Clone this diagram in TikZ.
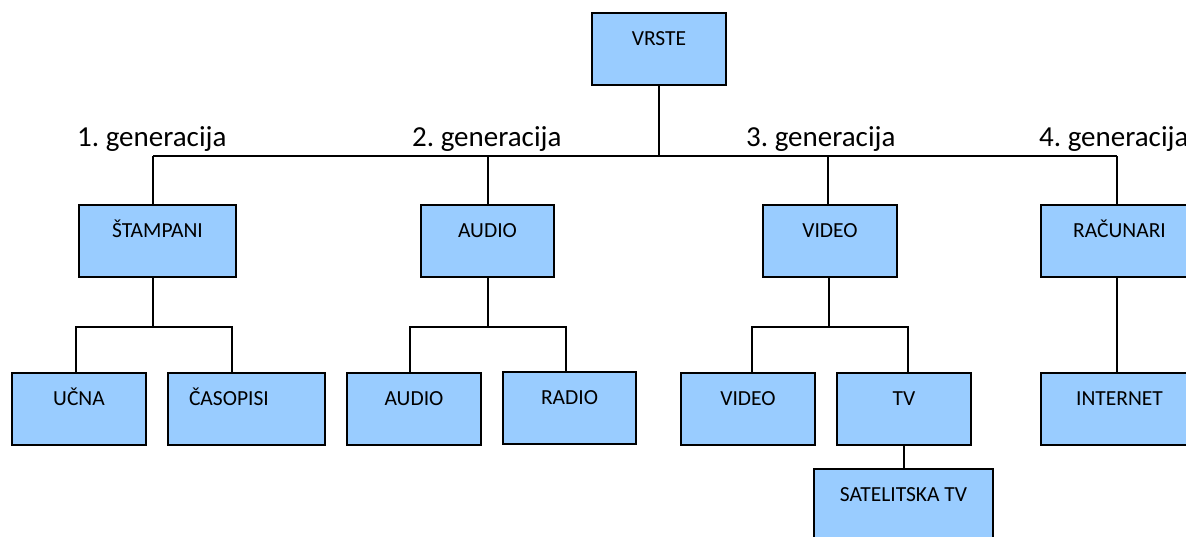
\documentclass[tikz,border=0pt]{standalone}
\usepackage{fontspec}
\setmainfont{Carlito}
\definecolor{boxblue}{RGB}{153,204,255}
\frenchspacing
\begin{document}
\begin{tikzpicture}[x=1pt,y=-1pt,
  box/.style={draw=black, line width=2.2pt, fill=boxblue, inner sep=0pt,
    minimum height=72pt, text height=32pt, text depth=40pt,
    font=\fontsize{21.5}{25}\selectfont},
  wire/.style={draw=black, line width=2.2pt},
  genlabel/.style={anchor=base west, inner sep=0pt,
    font=\fontsize{29}{35}\selectfont}]
\useasboundingbox (0,0) rectangle (1186,536);

% root
\node[box, minimum width=134pt] (vrste) at (659,49) {VRSTE};

% generation labels
\node[genlabel] (g1) at (77,146) {1. generacija};
\node[genlabel] (g2) at (412,146) {2. generacija};
\node[genlabel] (g3) at (746,146) {3. generacija};
\node[genlabel] (g4) at (1039,146) {4. generacija};

% first level
\node[box, minimum width=157pt] (stampani) at (157.5,241) {ŠTAMPANI};
\node[box, minimum width=133pt] (audio)    at (487.5,241) {AUDIO};
\node[box, minimum width=134pt] (video)    at (830,241)   {VIDEO};
\node[box, minimum width=157pt] (racunari) at (1119.5,241) {RAČUNARI};

% second level
\node[box, minimum width=134pt] (ucna) at (79,409) {UČNA};
\node[box, inner xsep=21pt, text width=115pt, align=left] (casopisi) at (246.5,409) {ČASOPISI};
\node[box, minimum width=134pt] (audio2) at (414,409) {AUDIO};
\node[box, minimum width=133pt] (radio)  at (569.5,408) {RADIO};
\node[box, minimum width=134pt] (video2) at (748,409) {VIDEO};
\node[box, minimum width=134pt] (tv)     at (904,409) {TV};
\node[box, minimum width=157pt] (internet) at (1119.5,409) {INTERNET};

% third level
\node[box, minimum width=179pt] (sat) at (903.5,505) {SATELITSKA TV};

% main bus
\coordinate (j1) at (153,156);
\coordinate (j2) at (488,156);
\coordinate (j3) at (828,156);
\coordinate (j4) at (1117,156);
\draw[wire] (j1) -- (j4);
\draw[wire] (vrste.south) -- (vrste.south |- j1);
\draw[wire] (j1) -- (j1 |- stampani.north);
\draw[wire] (j2) -- (j2 |- audio.north);
\draw[wire] (j3) -- (j3 |- video.north);
\draw[wire] (j4) -- (j4 |- racunari.north);

% branch under ŠTAMPANI
\coordinate (s0) at (153,327);
\coordinate (sl) at (76,327);
\coordinate (sr) at (232,327);
\draw[wire] (s0 |- stampani.south) -- (s0);
\draw[wire] (sl |- ucna.north) -- (sl) -- (sr) -- (sr |- casopisi.north);

% branch under AUDIO
\coordinate (a0) at (488,327);
\coordinate (al) at (410,327);
\coordinate (ar) at (566,327);
\draw[wire] (a0 |- audio.south) -- (a0);
\draw[wire] (al |- audio2.north) -- (al) -- (ar) -- (ar |- radio.north);

% branch under VIDEO
\coordinate (v0) at (829,327);
\coordinate (vl) at (752,327);
\coordinate (vr) at (908,327);
\draw[wire] (v0 |- video.south) -- (v0);
\draw[wire] (vl |- video2.north) -- (vl) -- (vr) -- (vr |- tv.north);

% TV to satellite TV
\draw[wire] (tv.south) -- (tv.south |- sat.north);

% RAČUNARI to INTERNET
\coordinate (r0) at (1117,277);
\draw[wire] (r0 |- racunari.south) -- (r0 |- internet.north);
\end{tikzpicture}
\end{document}
